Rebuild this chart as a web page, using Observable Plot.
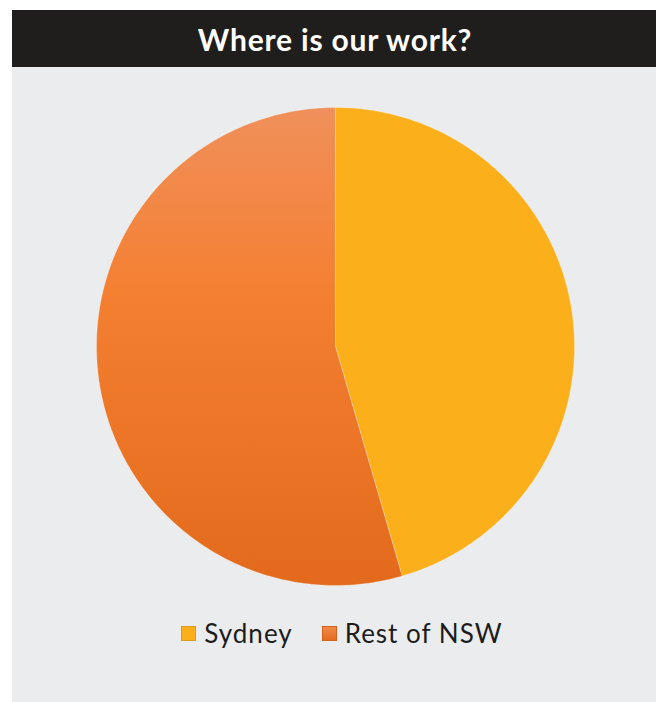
<!DOCTYPE html>
<html>
<head>
<meta charset="utf-8">
<script src="https://cdn.jsdelivr.net/npm/d3@7"></script>
<script src="https://cdn.jsdelivr.net/npm/@observablehq/plot@0.6"></script>
<style>
  body { margin: 0; background: #ffffff; font-family: Lato, "Open Sans", sans-serif; }
  #panel { position: absolute; left: 12px; top: 10px; width: 644px; height: 692px; background: #ebeced; overflow: hidden; }
  #title { height: 57px; background: #201e1c; color: #ffffff; font-weight: 700; font-size: 30px; letter-spacing: 0.8px;
           display: flex; align-items: center; justify-content: center; padding-left: 2px; }
  #chart svg { display: block; }
  #legend { display: flex; justify-content: center; align-items: center; gap: 29px; padding-left: 16px; margin-top: 5px;
            font-size: 26px; letter-spacing: 1px; color: #1c1c1c; }
  .item { display: flex; align-items: center; gap: 8px; }
  .sw { width: 13px; height: 13px; border: 1px solid; }
</style>
</head>
<body>
<div id="panel">
  <div id="title">Where is our work?</div>
  <div id="chart"></div>
  <div id="legend"></div>
</div>
<script>
const categories = ["Sydney", "Rest of NSW"];
const shares = [45.5, 54.5];
const colors = ["#fbb01b", "url(#restGrad)"];
const swatchFill = ["#fbb01b", "linear-gradient(#f2894a, #e56b1e)"];
const swatchStroke = ["#d99a1e", "#d2631c"];

const pieData = categories.map((c, i) => ({category: c, value: shares[i]}));
const arcs = d3.pie().sort(null).value(d => d.value)(pieData);

// Build polygon vertices for each slice from pie angles (unit circle, y up)
const pts = [];
arcs.forEach(a => {
  const n = 240;
  pts.push({category: a.data.category, x: 0, y: 0});
  for (let k = 0; k <= n; k++) {
    const t = a.startAngle + (a.endAngle - a.startAngle) * k / n;
    pts.push({category: a.data.category, x: Math.sin(t), y: Math.cos(t)});
  }
  pts.push({category: a.data.category, x: 0, y: 0});
});

const defs = () => {
  const ns = "http://www.w3.org/2000/svg";
  const d = document.createElementNS(ns, "defs");
  const g = document.createElementNS(ns, "linearGradient");
  g.setAttribute("id", "restGrad");
  g.setAttribute("x1", "0"); g.setAttribute("y1", "0");
  g.setAttribute("x2", "0"); g.setAttribute("y2", "1");
  [["0%", "#f0905b"], ["40%", "#f47f30"], ["100%", "#e36a1c"]].forEach(([o, c]) => {
    const s = document.createElementNS(ns, "stop");
    s.setAttribute("offset", o); s.setAttribute("stop-color", c);
    g.appendChild(s);
  });
  d.appendChild(g);
  return d;
};

const R = 239, cx = 323, cy = 279;
const plot = Plot.plot({
  width: 644,
  height: 545,
  margin: 0,
  style: {background: "transparent", overflow: "visible"},
  x: {domain: [-1, 1], range: [cx - R, cx + R], axis: null},
  y: {domain: [-1, 1], range: [cy + R, cy - R], axis: null},
  color: {domain: categories, range: colors},
  marks: [
    defs,
    Plot.line(pts, {x: "x", y: "y", z: "category", fill: d => colors[categories.indexOf(d.category)],
      stroke: "#ffffff", strokeOpacity: 0.35, strokeWidth: 0.8, curve: "linear"})
  ]
});
document.getElementById("chart").appendChild(plot);

const legend = document.getElementById("legend");
categories.forEach((c, i) => {
  const item = document.createElement("div");
  item.className = "item";
  const sw = document.createElement("div");
  sw.className = "sw";
  sw.style.background = swatchFill[i];
  sw.style.borderColor = swatchStroke[i];
  const t = document.createElement("span");
  t.textContent = c;
  item.appendChild(sw); item.appendChild(t);
  legend.appendChild(item);
});
</script>
</body>
</html>
